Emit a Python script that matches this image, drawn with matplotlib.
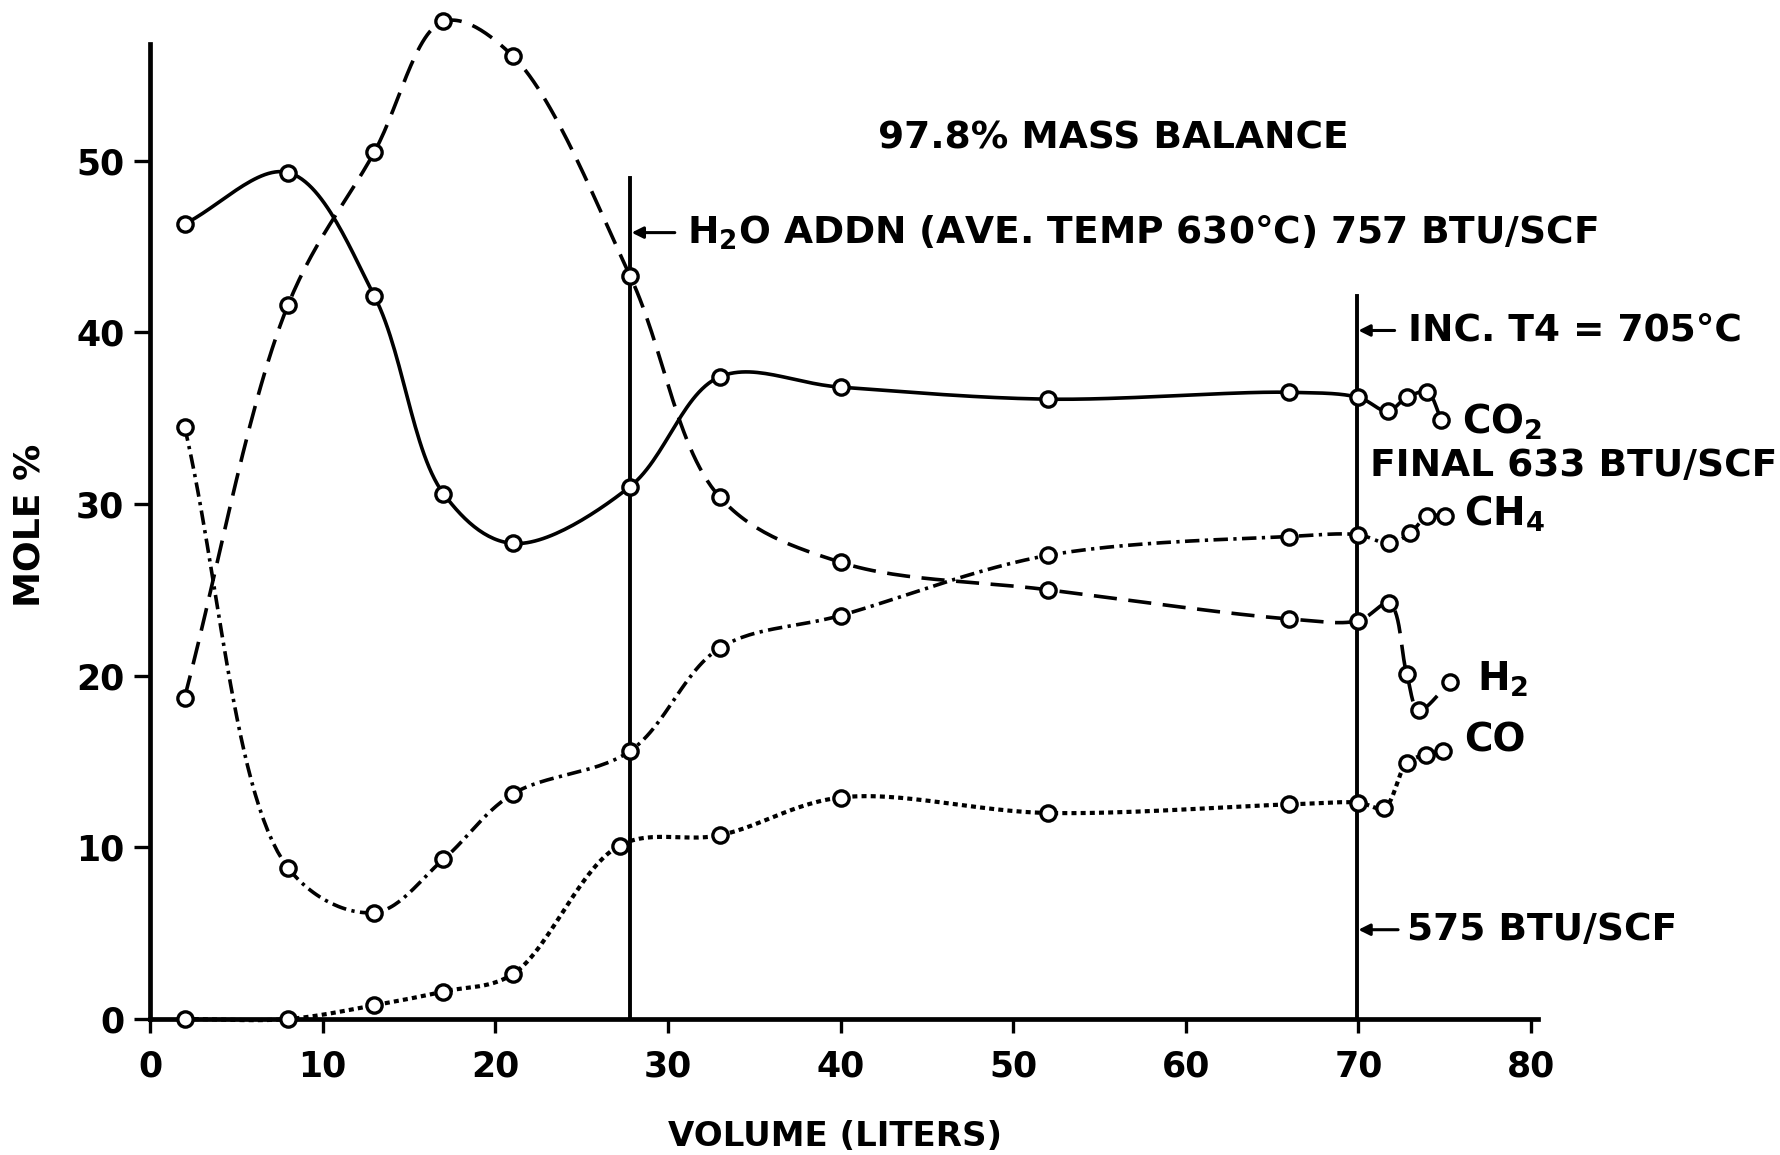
import numpy as np
import matplotlib
matplotlib.use('Agg')
import matplotlib.pyplot as plt

plt.rcParams['font.family'] = ['DejaVu Sans']
plt.rcParams['font.weight'] = 'bold'
plt.rcParams['mathtext.fontset'] = 'dejavusans'
plt.rcParams['mathtext.default'] = 'bf'

# ---------------- data ----------------
co2_x = [2, 8, 13, 17, 21, 27.8, 33, 40, 52, 66, 70, 71.7, 72.8, 74.0, 74.8]
co2_y = [46.3, 49.3, 42.1, 30.6, 27.7, 31.0, 37.4, 36.8, 36.1, 36.5, 36.2, 35.4, 36.2, 36.5, 34.9]

h2_x = [2, 8, 13, 17, 21, 27.8, 33, 40, 52, 66, 70, 71.8, 72.8, 73.5, 75.3]
h2_y = [18.7, 41.6, 50.5, 58.1, 56.1, 43.3, 30.4, 26.6, 25.0, 23.3, 23.2, 24.2, 20.1, 18.0, 19.6]

ch4_x = [2, 8, 13, 17, 21, 27.8, 33, 40, 52, 66, 70, 71.8, 73.0, 74.0, 75.0]
ch4_y = [34.5, 8.8, 6.2, 9.3, 13.1, 15.6, 21.6, 23.5, 27.0, 28.1, 28.2, 27.7, 28.3, 29.3, 29.3]

co_x = [2, 8, 13, 17, 21, 27.2, 33, 40, 52, 66, 70, 71.5, 72.8, 73.9, 74.9]
co_y = [0, 0, 0.8, 1.6, 2.6, 10.1, 10.7, 12.9, 12.0, 12.5, 12.6, 12.3, 14.9, 15.4, 15.6]

x_ticks = [0, 10, 20, 30, 40, 50, 60, 70, 80]
y_ticks = [0, 10, 20, 30, 40, 50]

event_x = [27.8, 69.9]          # H2O addition, T4 increase
event_top = [49.0, 42.1]

title_text = '97.8% MASS BALANCE'
h2o_text = r'H$_2$O ADDN (AVE. TEMP 630°C) 757 BTU/SCF'
inc_text = 'INC. T4 = 705°C'
final_text = 'FINAL 633 BTU/SCF'
btu575_text = '575 BTU/SCF'


def smooth(xs, ys, n=30):
    """Centripetal Catmull-Rom rendering of a hand-drawn curve through the points."""
    P = np.column_stack([xs, ys]).astype(float)
    P = np.vstack([2 * P[0] - P[1], P, 2 * P[-1] - P[-2]])
    out = []
    for i in range(1, len(P) - 2):
        p0, p1, p2, p3 = P[i - 1], P[i], P[i + 1], P[i + 2]

        def tj(ti, a, b):
            return ti + max(np.linalg.norm(b - a), 1e-6) ** 0.5
        t0 = 0.0
        t1 = tj(t0, p0, p1)
        t2 = tj(t1, p1, p2)
        t3 = tj(t2, p2, p3)
        t = np.linspace(t1, t2, n)[:, None]
        A1 = (t1 - t) / (t1 - t0) * p0 + (t - t0) / (t1 - t0) * p1
        A2 = (t2 - t) / (t2 - t1) * p1 + (t - t1) / (t2 - t1) * p2
        A3 = (t3 - t) / (t3 - t2) * p2 + (t - t2) / (t3 - t2) * p3
        B1 = (t2 - t) / (t2 - t0) * A1 + (t - t0) / (t2 - t0) * A2
        B2 = (t3 - t) / (t3 - t1) * A2 + (t - t1) / (t3 - t1) * A3
        C = (t2 - t) / (t2 - t1) * B1 + (t - t1) / (t2 - t1) * B2
        out.append(C if i == 1 else C[1:])
    C = np.vstack(out)
    return C[:, 0], C[:, 1]


fig = plt.figure(figsize=(17.8, 11.55), dpi=100)
ax = fig.add_axes([150 / 1780, 136 / 1155, 1381 / 1780, 59 * 17.17 / 1155])
ax.set_xlim(0, 80)
ax.set_ylim(0, 59)

series = [
    (co2_x, co2_y, '-', 2.6),
    (h2_x, h2_y, (0, (6.4, 3.2)), 2.6),
    (ch4_x, ch4_y, (0, (4.0, 1.5, 0.9, 1.5)), 2.6),
    (co_x, co_y, (0, (1.2, 1.0)), 3.0),
]
for xs, ys, ls, lw in series:
    sx, sy = smooth(xs, ys)
    ax.plot(sx, sy, color='black', lw=lw, linestyle=ls, clip_on=False,
            zorder=3, solid_capstyle='butt', dash_capstyle='butt')
    ax.plot(xs, ys, linestyle='none', marker='o', ms=11, mew=2.4,
            mfc='white', mec='black', clip_on=False, zorder=5)

# event vertical lines
for ex, et in zip(event_x, event_top):
    ax.plot([ex, ex], [0, et], color='black', lw=2.8, zorder=4, clip_on=False)

# spines / ticks
for s in ['top', 'right']:
    ax.spines[s].set_visible(False)
ax.spines['left'].set_linewidth(3.4)
ax.spines['bottom'].set_linewidth(3.4)
ax.spines['left'].set_bounds(0, 56.8)
ax.spines['bottom'].set_bounds(0, 80.4)
ax.set_xticks(x_ticks)
ax.set_yticks(y_ticks)
ax.set_xticklabels([str(v) for v in x_ticks])
ax.set_yticklabels([str(v) for v in y_ticks])
ax.tick_params(axis='x', direction='out', length=10, width=2.4, pad=12,
               labelsize=25)
ax.tick_params(axis='y', direction='out', length=11.5, width=2.4, pad=7,
               labelsize=25)
for lab in ax.get_xticklabels() + ax.get_yticklabels():
    lab.set_fontweight('bold')

# axis titles
fig.text(29 / 1780, 1 - 525 / 1155, 'MOLE %', rotation=90, ha='center',
         va='center', fontsize=26, fontweight='bold')
fig.text(835 / 1780, 1 - 1137 / 1155, 'VOLUME (LITERS)', ha='center',
         va='center', fontsize=24.5, fontweight='bold')

# annotations
tk = dict(fontsize=27, fontweight='bold', clip_on=False, va='center')
ax.text(55.8, 51.3, title_text, ha='center', **tk)
ax.text(31.1, 45.8, h2o_text, ha='left', **tk)
ax.text(72.9, 40.1, inc_text, ha='left', **tk)
ax.text(70.7, 32.2, final_text, ha='left', **tk)
ax.text(72.8, 5.2, btu575_text, ha='left', **tk)

arrow = dict(arrowstyle='-|>', lw=2.2, color='black', mutation_scale=17,
             shrinkA=0, shrinkB=0)
ax.annotate('', xy=(event_x[0] + 0.1, 45.8), xytext=(30.4, 45.8),
            arrowprops=arrow, annotation_clip=False)
ax.annotate('', xy=(event_x[1] + 0.1, 40.1), xytext=(72.1, 40.1),
            arrowprops=arrow, annotation_clip=False)
ax.annotate('', xy=(event_x[1] + 0.1, 5.2), xytext=(72.3, 5.2),
            arrowprops=arrow, annotation_clip=False)

# series labels
lk = dict(tk, fontsize=28)
ax.text(76.0, 34.8, r'CO$_2$', ha='left', **lk)
ax.text(76.1, 29.4, r'CH$_4$', ha='left', **lk)
ax.text(76.9, 19.8, r'H$_2$', ha='left', **lk)
ax.text(76.1, 16.2, 'CO', ha='left', **lk)

fig.savefig('out.png', dpi=100, facecolor='white')
